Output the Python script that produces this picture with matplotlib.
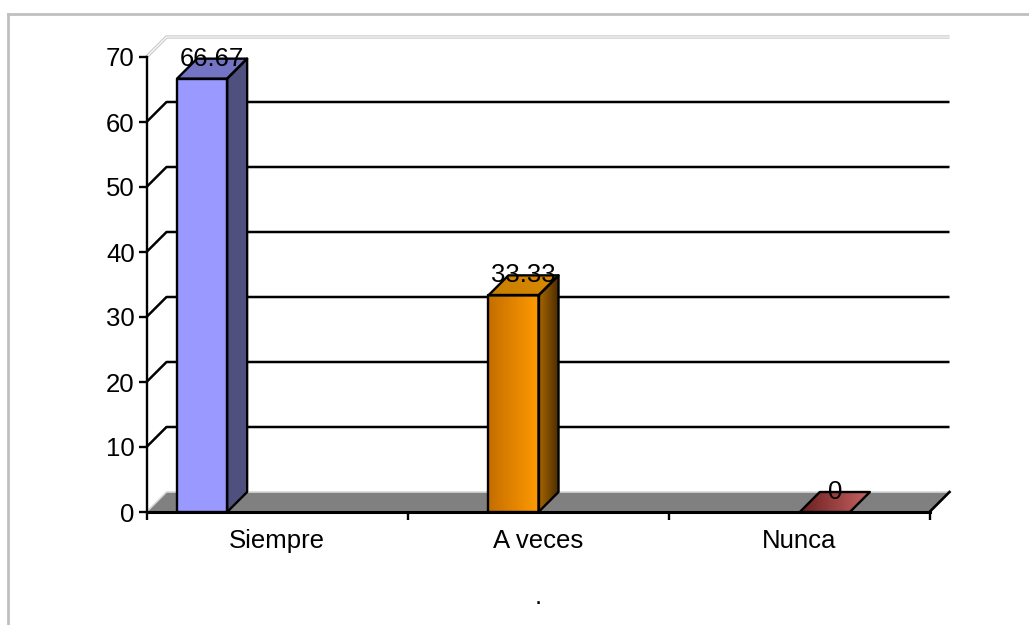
import numpy as np
import matplotlib
matplotlib.use("Agg")
import matplotlib.pyplot as plt
from matplotlib.patches import Polygon
from matplotlib.colors import LinearSegmentedColormap
from matplotlib.lines import Line2D

plt.rcParams['font.family'] = ['Liberation Sans', 'DejaVu Sans']

# ---- data ----
categories = ["Siempre", "A veces", "Nunca"]
values = [66.67, 33.33, 0]
value_labels = ["66.67", "33.33", "0"]
y_ticks = [0, 10, 20, 30, 40, 50, 60, 70]
axis_title = "."

# face colours per bar: (front gradient, side gradient, top gradient)
front_colors = [("#9999FF", "#9999FF"), ("#C46E00", "#FF9A00"), ("#993333", "#993333")]
side_colors = [("#50507F", "#50507F"), ("#A86500", "#4A2C00"), ("#5A1A1A", "#5A1A1A")]
top_colors = [("#7474C4", "#7474C4"), ("#C97E00", "#D98A00"), ("#6A1E1E", "#C86464")]

# ---- layout / style ----
W_PX, H_PX, DPI = 1029, 625, 100
DEPTH_X = 20 / 261.0          # depth offset in category units
DEPTH_Y = 20 / 6.5            # depth offset in value units
BAR_START = -0.383
BAR_STEP = 1.193
BAR_W = 0.192
EDGE_LW = 1.7
FS = 18.5

fig = plt.figure(figsize=(W_PX / DPI, H_PX / DPI), dpi=DPI)
fig.patch.set_facecolor("white")

# outer frame (left and top edges visible)
fig.add_artist(Line2D([8 / W_PX, 8 / W_PX], [0, 1 - 14 / H_PX],
                      transform=fig.transFigure, color="#C0C0C0", lw=2.0))
fig.add_artist(Line2D([8 / W_PX, 1], [1 - 14 / H_PX, 1 - 14 / H_PX],
                      transform=fig.transFigure, color="#C0C0C0", lw=2.0))

left = 146.5 / W_PX
width = 783 / W_PX
bottom = (H_PX - 512) / H_PX
height = 455 / H_PX
ax = fig.add_axes([left, bottom, width, height])
ax.set_facecolor("none")
XMIN, XMAX = -0.5, len(categories) - 0.5
YMIN, YMAX = 0, 70


def gradient_poly(ax, pts, c0, c1, z):
    pts = np.asarray(pts)
    poly = Polygon(pts, closed=True, facecolor="none", edgecolor="black",
                   lw=EDGE_LW, zorder=z + 0.5, clip_on=False, joinstyle="round")
    ax.add_patch(poly)
    if c0 == c1:
        fill = Polygon(pts, closed=True, facecolor=c0, edgecolor="none",
                       zorder=z, clip_on=False)
        ax.add_patch(fill)
        return
    cmap = LinearSegmentedColormap.from_list("g", [c0, c1])
    grad = np.linspace(0, 1, 256).reshape(1, -1)
    x0, x1 = pts[:, 0].min(), pts[:, 0].max()
    y0, y1 = pts[:, 1].min(), pts[:, 1].max()
    if y1 - y0 < 1e-9:
        y1 = y0 + 1e-6
    im = ax.imshow(grad, cmap=cmap, extent=[x0, x1, y0, y1], aspect="auto",
                   interpolation="bilinear", zorder=z, origin="lower")
    clip = Polygon(pts, closed=True, transform=ax.transData, facecolor="none")
    im.set_clip_path(clip)


# floor
floor = [(XMIN, 0), (XMAX, 0), (XMAX + DEPTH_X, DEPTH_Y), (XMIN + DEPTH_X, DEPTH_Y)]
ax.add_patch(Polygon(floor, closed=True, facecolor="#808080", edgecolor="none",
                     zorder=1, clip_on=False))
ax.plot([XMIN, XMIN + DEPTH_X, XMAX + DEPTH_X], [0, DEPTH_Y, DEPTH_Y],
        color="#D8D8D8", lw=1.2, zorder=1.2, clip_on=False)
ax.plot([XMAX, XMAX + DEPTH_X], [0, DEPTH_Y], color="black", lw=1.9,
        zorder=1.3, clip_on=False)

# gridlines on side and back walls
for v in y_ticks[1:-1]:
    ax.plot([XMIN, XMIN + DEPTH_X, XMAX + DEPTH_X], [v, v + DEPTH_Y, v + DEPTH_Y],
            color="black", lw=1.8, zorder=1, clip_on=False, solid_capstyle="butt")
top_v = y_ticks[-1]
ax.plot([XMIN, XMIN + DEPTH_X, XMAX + DEPTH_X], [top_v, top_v + DEPTH_Y, top_v + DEPTH_Y],
        color="#C8C8C8", lw=2.4, zorder=1, clip_on=False, solid_capstyle="butt")
ax.plot([XMIN, XMIN + DEPTH_X, XMAX + DEPTH_X], [top_v, top_v + DEPTH_Y, top_v + DEPTH_Y],
        color="white", lw=0.8, zorder=1.1, clip_on=False, solid_capstyle="butt")

# 3D bars
for i, v in enumerate(values):
    L = BAR_START + i * BAR_STEP
    R = L + BAR_W
    z = 3 + i
    front = [(L, 0), (R, 0), (R, v), (L, v)]
    side = [(R, 0), (R + DEPTH_X, DEPTH_Y), (R + DEPTH_X, v + DEPTH_Y), (R, v)]
    top = [(L, v), (R, v), (R + DEPTH_X, v + DEPTH_Y), (L + DEPTH_X, v + DEPTH_Y)]
    if v > 0:
        gradient_poly(ax, front, *front_colors[i], z)
        gradient_poly(ax, side, *side_colors[i], z)
    gradient_poly(ax, top, *top_colors[i], z + 0.2)
    ax.text(L + (BAR_W + DEPTH_X) / 2, v + DEPTH_Y, value_labels[i],
            ha="center", va="center", fontsize=FS, color="black", zorder=10)

ax.set_xlim(XMIN, XMAX)
ax.set_ylim(YMIN, YMAX)

# axes, ticks
for s in ["top", "right"]:
    ax.spines[s].set_visible(False)
ax.spines["left"].set_linewidth(1.7)
ax.spines["bottom"].set_linewidth(2.2)
ax.spines["bottom"].set_zorder(2)
ax.set_yticks(y_ticks)
ax.set_yticklabels([str(t) for t in y_ticks])
ax.tick_params(axis="y", direction="out", length=5.5, width=1.7, pad=3,
               labelsize=FS, colors="black")
ax.set_xticks(np.arange(XMIN, XMAX + 0.01, 1.0))
ax.set_xticklabels([])
ax.tick_params(axis="x", which="major", direction="out", length=5.5, width=1.7)
ax.set_xticks(np.arange(len(categories)), minor=True)
ax.set_xticklabels(categories, minor=True)
ax.tick_params(axis="x", which="minor", length=0, pad=12, labelsize=FS)

fig.text(538 / W_PX, 1 - 597 / H_PX, axis_title, ha="center", va="center", fontsize=FS)

fig.savefig("out.png", dpi=DPI)
